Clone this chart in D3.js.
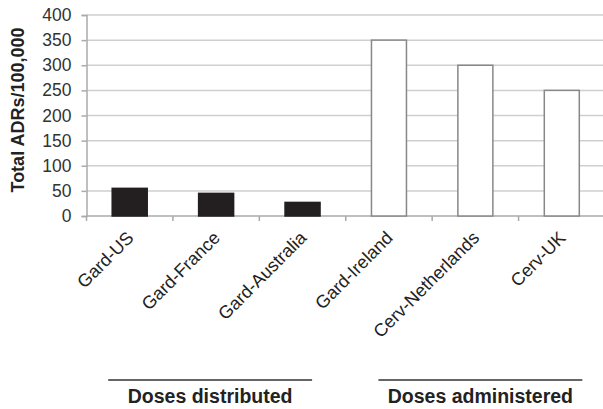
<!DOCTYPE html>
<html>
<head>
<meta charset="utf-8">
<script src="https://cdn.jsdelivr.net/npm/d3@7"></script>
<style>
  body { margin: 0; background: #fff; }
  text { font-family: "Liberation Sans", Arial, sans-serif; }
</style>
</head>
<body>
<div id="chart"></div>
<script>
// chart data
const categories = ["Gard-US", "Gard-France", "Gard-Australia", "Gard-Ireland", "Cerv-Netherlands", "Cerv-UK"];
const values = [55, 45, 27, 350, 300, 250];
const groupOf = ["distributed", "distributed", "distributed", "administered", "administered", "administered"];
const groups = ["Doses distributed", "Doses administered"];
const yTicks = [0, 50, 100, 150, 200, 250, 300, 350, 400];

const width = 603, height = 409;
const margin = { left: 86.5, right: -2, top: 15, bottom: 193 };

const svg = d3.select("#chart").append("svg")
    .attr("width", width)
    .attr("height", height);

const x = d3.scaleBand()
    .domain(categories)
    .range([margin.left, width - margin.right])
    .paddingInner(0.595)
    .paddingOuter(0.2975);

const y = d3.scaleLinear()
    .domain([0, 400])
    .range([height - margin.bottom, margin.top]);

// gridlines
svg.append("g")
    .selectAll("line")
    .data(yTicks.slice(1))
    .join("line")
    .attr("x1", margin.left)
    .attr("x2", width)
    .attr("y1", d => y(d))
    .attr("y2", d => y(d))
    .attr("stroke", "#cfcfcf")
    .attr("stroke-width", 1.5);

// y axis
const yAxis = svg.append("g")
    .attr("transform", `translate(${margin.left},0)`)
    .call(d3.axisLeft(y).tickValues(yTicks).tickSize(5).tickPadding(10));
yAxis.select(".domain").attr("stroke", "#aaa").attr("stroke-width", 1.5);
yAxis.selectAll(".tick line").attr("stroke", "#aaa").attr("stroke-width", 1.5);
yAxis.selectAll("text")
    .attr("font-size", "17.5px")
    .attr("fill", "#333")
    .attr("font-family", "Liberation Sans, Arial, sans-serif");

// x axis baseline with category boundary ticks
const step = x.step();
const bounds = d3.range(categories.length + 1).map(i => margin.left + i * step);
svg.append("line")
    .attr("x1", margin.left).attr("x2", width)
    .attr("y1", y(0)).attr("y2", y(0))
    .attr("stroke", "#aaa").attr("stroke-width", 1.5);
svg.append("g").selectAll("line")
    .data(bounds)
    .join("line")
    .attr("x1", d => d).attr("x2", d => d)
    .attr("y1", y(0)).attr("y2", y(0) + 5)
    .attr("stroke", "#aaa").attr("stroke-width", 1.5);

// bars
svg.append("g").selectAll("rect")
    .data(categories)
    .join("rect")
    .attr("x", d => x(d))
    .attr("width", x.bandwidth())
    .attr("y", (d, i) => y(values[i]))
    .attr("height", (d, i) => y(0) - y(values[i]))
    .attr("fill", (d, i) => groupOf[i] === "distributed" ? "#231f20" : "#fff")
    .attr("stroke", (d, i) => groupOf[i] === "distributed" ? "#231f20" : "#888")
    .attr("stroke-width", 1.5);

// x labels, rotated
svg.append("g").selectAll("text")
    .data(categories)
    .join("text")
    .attr("transform", d => `translate(${x(d) + x.bandwidth() / 2 + 5},${y(0) + 23}) rotate(-45)`)
    .attr("text-anchor", "end")
    .attr("font-size", "18px")
    .attr("fill", "#222")
    .text(d => d);

// group brackets
const shift = [-6, 5];
groups.forEach((g, gi) => {
    const first = categories[gi * 3];
    const last = categories[gi * 3 + 2];
    const mid = (x(first) + x(last) + x.bandwidth()) / 2 + shift[gi];
    const half = step * 1.18;
    svg.append("line")
        .attr("x1", mid - half).attr("x2", mid + half)
        .attr("y1", 380).attr("y2", 380)
        .attr("stroke", "#333").attr("stroke-width", 1.5);
    svg.append("text")
        .attr("x", mid)
        .attr("y", 403)
        .attr("text-anchor", "middle")
        .attr("font-size", "19.5px")
        .attr("font-weight", "bold")
        .attr("fill", "#222")
        .text(g);
});

// y title
svg.append("text")
    .attr("transform", `translate(24,110) rotate(-90)`)
    .attr("text-anchor", "middle")
    .attr("font-size", "18px")
    .attr("font-weight", "bold")
    .attr("fill", "#222")
    .text("Total ADRs/100,000");
</script>
</body>
</html>
